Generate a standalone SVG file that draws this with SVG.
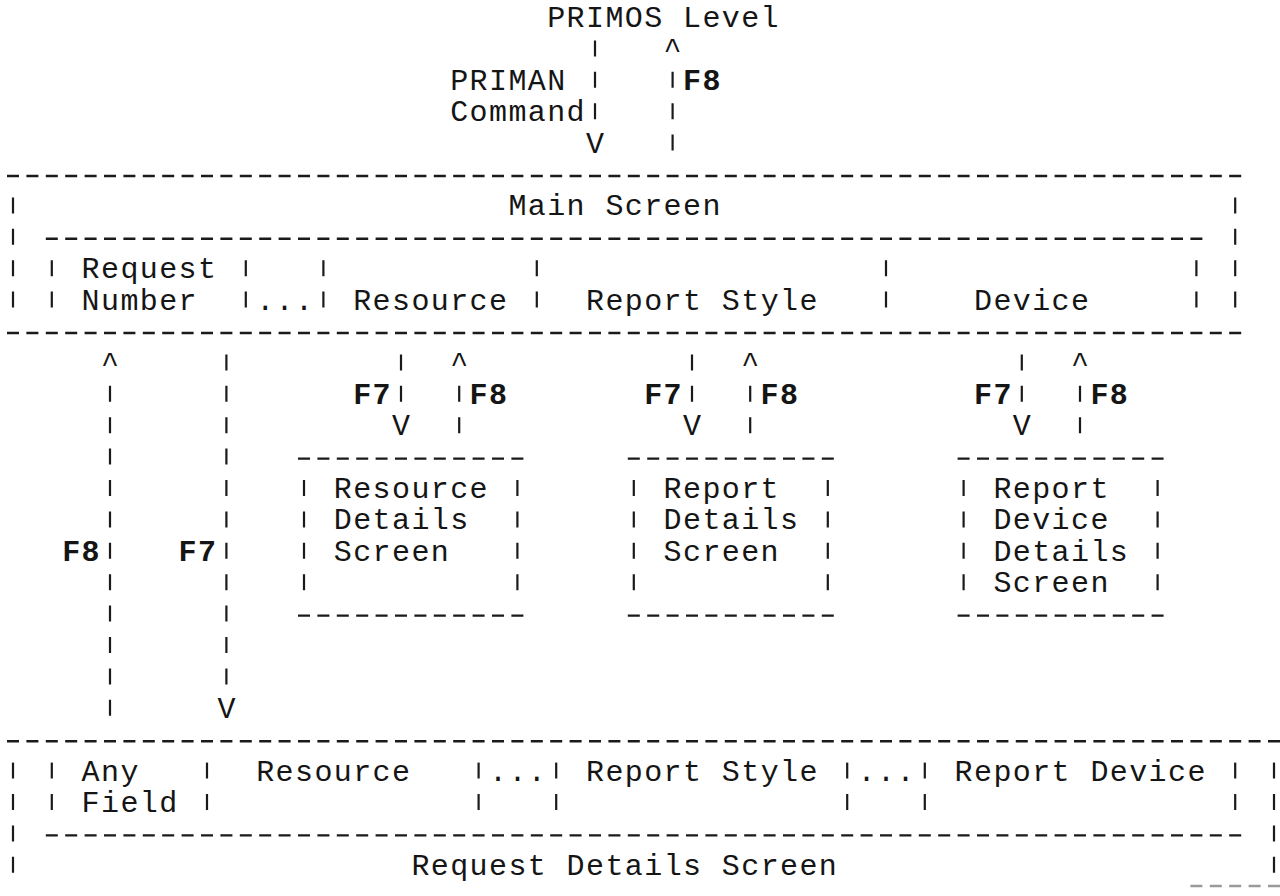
<svg xmlns="http://www.w3.org/2000/svg" width="1280" height="896" viewBox="0 0 1280 896">
<style>
  text { font-family: "Liberation Mono", "DejaVu Sans Mono", monospace; font-size: 30px; letter-spacing: 1.4px; fill: #151515; }
  .c { text-anchor: middle; letter-spacing: 0; }
  .k { font-weight: bold; }
  .d { stroke: #1a1a1a; stroke-width: 2.4; stroke-dasharray: 12 7.4; fill: none; }
  .v { stroke: #1a1a1a; stroke-width: 2.2; stroke-dasharray: 16 15.4; fill: none; }
  .f { stroke: #9a9a9a; stroke-width: 2.4; stroke-dasharray: 12 7.4; fill: none; }
</style>
<rect width="1280" height="896" fill="#ffffff"/>

<g id="primos-level">
  <text x="547.2" y="27">PRIMOS Level</text>
</g>

<g id="main-screen">
  <line class="d" x1="7" y1="176" x2="1241.2" y2="176"/>
  <line class="v" x1="13" y1="197.4" x2="13" y2="307.6"/>
  <line class="v" x1="1235.2" y1="197.4" x2="1235.2" y2="307.6"/>
  <text x="508.4" y="215.4">Main Screen</text>
  <line class="d" x1="45.8" y1="238.8" x2="1202.4" y2="238.8"/>
  <line class="v" x1="51.8" y1="260.2" x2="51.8" y2="307.6"/>
  <line class="v" x1="245.8" y1="260.2" x2="245.8" y2="307.6"/>
  <line class="v" x1="323.4" y1="260.2" x2="323.4" y2="307.6"/>
  <line class="v" x1="536.8" y1="260.2" x2="536.8" y2="307.6"/>
  <line class="v" x1="886" y1="260.2" x2="886" y2="307.6"/>
  <line class="v" x1="1196.4" y1="260.2" x2="1196.4" y2="307.6"/>
  <text x="81.6" y="278.2">Request</text>
  <text x="81.6" y="309.6">Number</text>
  <text x="256.2" y="309.6">...</text>
  <text x="353.2" y="309.6">Resource</text>
  <text x="586" y="309.6">Report Style</text>
  <text x="974" y="309.6">Device</text>
  <line class="d" x1="7" y1="333" x2="1241.2" y2="333"/>
</g>

<g id="resource-details">
  <line class="d" x1="298" y1="458.6" x2="523.4" y2="458.6"/>
  <line class="v" x1="304" y1="480" x2="304" y2="590.2"/>
  <line class="v" x1="517.4" y1="480" x2="517.4" y2="590.2"/>
  <text x="333.8" y="498">Resource</text>
  <text x="333.8" y="529.4">Details</text>
  <text x="333.8" y="560.8">Screen</text>
  <line class="d" x1="298" y1="615.6" x2="523.4" y2="615.6"/>
</g>

<g id="report-details">
  <line class="d" x1="627.8" y1="458.6" x2="833.8" y2="458.6"/>
  <line class="v" x1="633.8" y1="480" x2="633.8" y2="590.2"/>
  <line class="v" x1="827.8" y1="480" x2="827.8" y2="590.2"/>
  <text x="663.6" y="498">Report</text>
  <text x="663.6" y="529.4">Details</text>
  <text x="663.6" y="560.8">Screen</text>
  <line class="d" x1="627.8" y1="615.6" x2="833.8" y2="615.6"/>
</g>

<g id="report-device-details">
  <line class="d" x1="957.6" y1="458.6" x2="1163.6" y2="458.6"/>
  <line class="v" x1="963.6" y1="480" x2="963.6" y2="590.2"/>
  <line class="v" x1="1157.6" y1="480" x2="1157.6" y2="590.2"/>
  <text x="993.4" y="498">Report</text>
  <text x="993.4" y="529.4">Device</text>
  <text x="993.4" y="560.8">Details</text>
  <text x="993.4" y="592.2">Screen</text>
  <line class="d" x1="957.6" y1="615.6" x2="1163.6" y2="615.6"/>
</g>

<g id="request-details">
  <line class="d" x1="7" y1="741.2" x2="1280" y2="741.2"/>
  <line class="v" x1="13" y1="762.6" x2="13" y2="872.8"/>
  <line class="v" x1="1274" y1="762.6" x2="1274" y2="872.8"/>
  <line class="v" x1="51.8" y1="762.6" x2="51.8" y2="810"/>
  <line class="v" x1="207" y1="762.6" x2="207" y2="810"/>
  <line class="v" x1="478.6" y1="762.6" x2="478.6" y2="810"/>
  <line class="v" x1="556.2" y1="762.6" x2="556.2" y2="810"/>
  <line class="v" x1="847.2" y1="762.6" x2="847.2" y2="810"/>
  <line class="v" x1="924.8" y1="762.6" x2="924.8" y2="810"/>
  <line class="v" x1="1235.2" y1="762.6" x2="1235.2" y2="810"/>
  <text x="81.6" y="780.6">Any</text>
  <text x="256.2" y="780.6">Resource</text>
  <text x="489" y="780.6">...</text>
  <text x="586" y="780.6">Report Style</text>
  <text x="857.6" y="780.6">...</text>
  <text x="954.6" y="780.6">Report Device</text>
  <text x="81.6" y="812">Field</text>
  <line class="d" x1="45.8" y1="835.4" x2="1241.2" y2="835.4"/>
  <text x="411.4" y="874.8">Request Details Screen</text>
  <line class="f" x1="1190.4" y1="886" x2="1280" y2="886"/>
</g>

<g id="connectors">
  <line class="v" x1="595" y1="40.4" x2="595" y2="119.2"/>
  <text class="c" x="595" y="152.6">V</text>
  <text class="c" x="672.6" y="58.4">^</text>
  <line class="v" x1="672.6" y1="71.8" x2="672.6" y2="150.6"/>
  <text x="450.2" y="89.8">PRIMAN</text>
  <text x="450.2" y="121.2">Command</text>
  <text class="k" x="683" y="89.8">F8</text>

  <text class="c" x="110" y="372.4">^</text>
  <line class="v" x1="110" y1="385.8" x2="110" y2="715.8"/>
  <text class="k" x="62.2" y="560.8">F8</text>
  <line class="v" x1="226.4" y1="354.4" x2="226.4" y2="684.4"/>
  <text class="c" x="226.4" y="717.8">V</text>
  <text class="k" x="178.6" y="560.8">F7</text>

  <line class="v" x1="401" y1="354.4" x2="401" y2="401.8"/>
  <text class="c" x="401" y="435.2">V</text>
  <text class="c" x="459.2" y="372.4">^</text>
  <line class="v" x1="459.2" y1="385.8" x2="459.2" y2="433.2"/>
  <text class="k" x="353.2" y="403.8">F7</text>
  <text class="k" x="469.6" y="403.8">F8</text>

  <line class="v" x1="692" y1="354.4" x2="692" y2="401.8"/>
  <text class="c" x="692" y="435.2">V</text>
  <text class="c" x="750.2" y="372.4">^</text>
  <line class="v" x1="750.2" y1="385.8" x2="750.2" y2="433.2"/>
  <text class="k" x="644.2" y="403.8">F7</text>
  <text class="k" x="760.6" y="403.8">F8</text>

  <line class="v" x1="1021.8" y1="354.4" x2="1021.8" y2="401.8"/>
  <text class="c" x="1021.8" y="435.2">V</text>
  <text class="c" x="1080" y="372.4">^</text>
  <line class="v" x1="1080" y1="385.8" x2="1080" y2="433.2"/>
  <text class="k" x="974" y="403.8">F7</text>
  <text class="k" x="1090.4" y="403.8">F8</text>
</g>
</svg>
